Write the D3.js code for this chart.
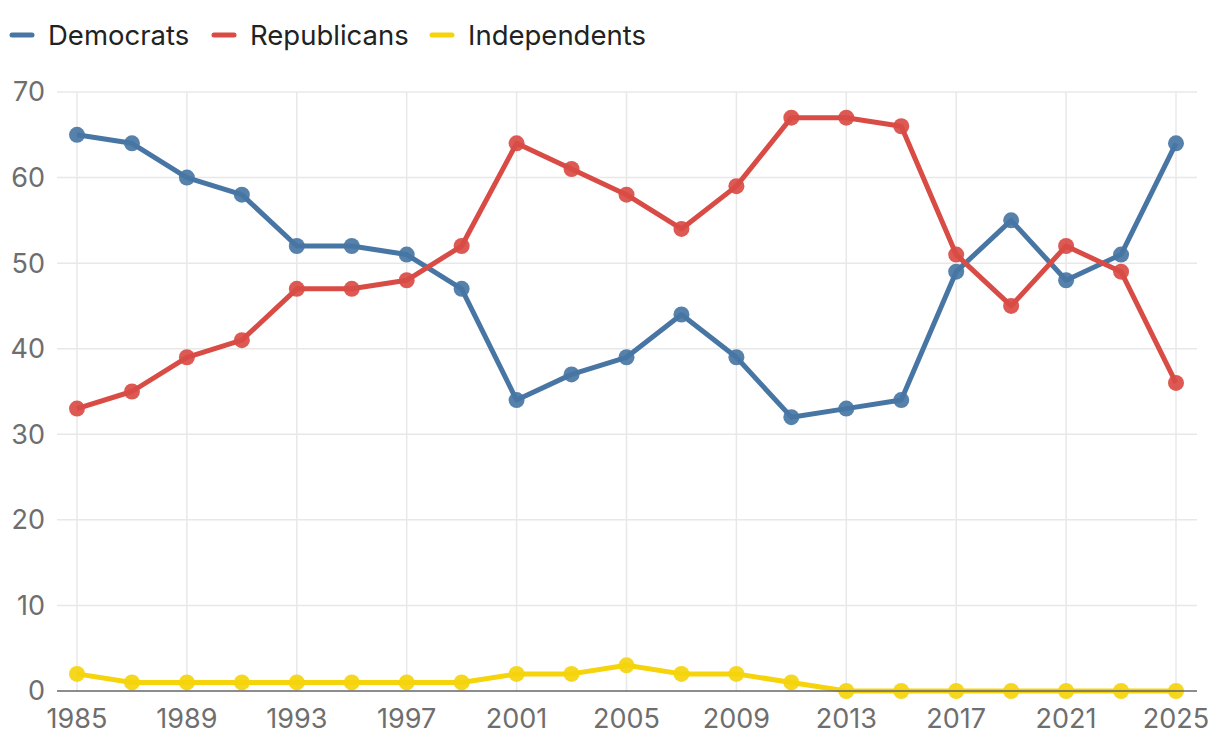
<!DOCTYPE html>
<html>
<head>
<meta charset="utf-8">
<script src="https://cdn.jsdelivr.net/npm/d3@7"></script>
<style>
  body { margin: 0; background: #fff; font-family: Inter, "Noto Sans", sans-serif; }
</style>
</head>
<body>
<div id="chart"></div>
<script>
const years = [1985,1987,1989,1991,1993,1995,1997,1999,2001,2003,2005,2007,2009,2011,2013,2015,2017,2019,2021,2023,2025];
const democrats   = [65,64,60,58,52,52,51,47,34,37,39,44,39,32,33,34,49,55,48,51,64];
const republicans = [33,35,39,41,47,47,48,52,64,61,58,54,59,67,67,66,51,45,52,49,36];
const independents = [2,1,1,1,1,1,1,1,2,2,3,2,2,1,0,0,0,0,0,0,0];
const xTicks = [1985,1989,1993,1997,2001,2005,2009,2013,2017,2021,2025];
const yTicks = [0,10,20,30,40,50,60,70];

const series = [
  { name: "Democrats", values: democrats, color: "#4876a4" },
  { name: "Republicans", values: republicans, color: "#d94b45" },
  { name: "Independents", values: independents, color: "#f5d40c" }
];

const W = 1220, H = 750;
const svg = d3.select("#chart").append("svg").attr("width", W).attr("height", H);

const x = d3.scaleLinear().domain([1985, 2025]).range([77, 1176]);
const y = d3.scaleLinear().domain([0, 70]).range([691, 92]);
const left = 57, right = 1197;

// grid
svg.append("g").selectAll("line").data(yTicks.filter(d => d > 0)).join("line")
  .attr("x1", left).attr("x2", right)
  .attr("y1", d => y(d)).attr("y2", d => y(d))
  .attr("stroke", "#e8e8e8").attr("stroke-width", 1.5);
svg.append("g").selectAll("line").data(xTicks).join("line")
  .attr("x1", d => x(d)).attr("x2", d => x(d))
  .attr("y1", y(70)).attr("y2", y(0))
  .attr("stroke", "#e8e8e8").attr("stroke-width", 1.5);

// tick labels
svg.append("g").selectAll("text").data(yTicks).join("text")
  .attr("x", 45).attr("y", d => y(d))
  .attr("dy", "0.35em").attr("text-anchor", "end")
  .attr("fill", "#6e6e6e").style("font-size", "27px")
  .text(d => d);
svg.append("g").selectAll("text").data(xTicks).join("text")
  .attr("x", d => x(d)).attr("y", 719)
  .attr("dy", "0.35em").attr("text-anchor", "middle")
  .attr("fill", "#6e6e6e").style("font-size", "27px")
  .text(d => d);

// lines
const line = d3.line().x((d, i) => x(years[i])).y(d => y(d));
series.forEach(s => {
  const g = svg.append("g");
  g.append("path").datum(s.values)
    .attr("d", line).attr("fill", "none")
    .attr("stroke", s.color).attr("stroke-width", 5)
    .attr("stroke-linejoin", "round");
  g.selectAll("circle").data(s.values).join("circle")
    .attr("cx", (d, i) => x(years[i])).attr("cy", d => y(d))
    .attr("r", 8).attr("fill", s.color).attr("fill-opacity", 0.92);
});

// baseline
svg.append("line")
  .attr("x1", left).attr("x2", right)
  .attr("y1", y(0)).attr("y2", y(0))
  .attr("stroke", "#666").attr("stroke-width", 1.5);

// legend
const legendX = [12, 214, 432];
const lg = svg.append("g").selectAll("g").data(series).join("g")
  .attr("transform", (d, i) => `translate(${legendX[i]},35)`);
lg.append("line").attr("x1", 0).attr("x2", 20)
  .attr("stroke", d => d.color).attr("stroke-width", 5).attr("stroke-linecap", "round");
lg.append("text").attr("x", 36).attr("dy", "0.35em")
  .attr("fill", "#222").style("font-size", "27.5px")
  .text(d => d.name);
</script>
</body>
</html>
